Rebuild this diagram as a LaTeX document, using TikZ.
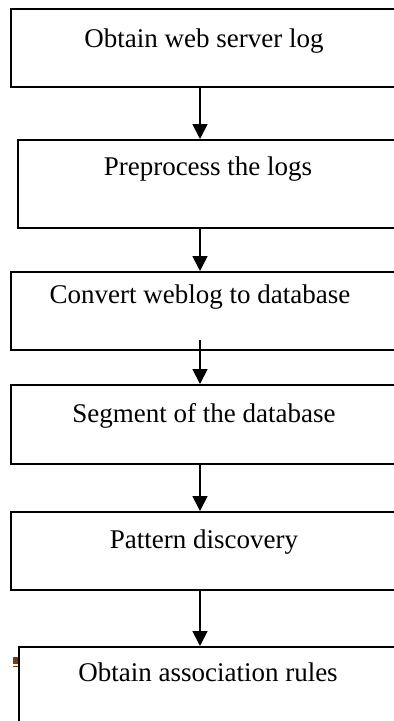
\documentclass[tikz,border=0pt]{standalone}
\usepackage{fontspec}
\setmainfont{Liberation Serif}
\usetikzlibrary{arrows.meta}
\definecolor{markbrown}{HTML}{7E3A0E}
\tikzset{
  stepbox/.style={draw=black, line width=1.6pt, rectangle, inner sep=0pt,
                  anchor=north west, minimum width=400pt},
  steptext/.style={anchor=base, inner sep=0pt, font=\fontsize{27}{32}\selectfont},
  flow/.style={line width=1.8pt, -{Triangle[length=15pt,width=15pt]}}
}
\begin{document}
\begin{tikzpicture}[x=1pt,y=-1pt]
\useasboundingbox (0,0) rectangle (394,721);
\clip (0,0) rectangle (394,721);
\fill[white] (0,0) rectangle (394,721);

% the six process boxes (they run past the right edge)
\node[stepbox, minimum height=78pt] (b1) at (10,8)   {};
\node[stepbox, minimum height=88pt] (b2) at (17,139) {};
\node[stepbox, minimum height=78pt] (b3) at (10,271) {};
\node[stepbox, minimum height=79pt] (b4) at (10,384) {};
\node[stepbox, minimum height=78pt] (b5) at (10,511) {};
\node[stepbox, minimum height=94pt] (b6) at (18,646) {};

% labels
\node[steptext] (t1) at (204,47)  {Obtain web server log};
\node[steptext] (t2) at (208,175) {Preprocess the logs};
\node[steptext] (t3) at (200,303) {Convert weblog to database};
\node[steptext] (t4) at (204,422) {Segment of the database};
\node[steptext] (t5) at (204,548) {Pattern discovery};
\node[steptext] (t6) at (208,681) {Obtain association rules};

% vertical line of the connectors
\coordinate (axis) at (200,0);
\coordinate (a3s) at (200,340);

\draw[flow] (b1.south -| axis) -- (b2.north -| axis);
\draw[flow] (b2.south -| axis) -- (b3.north -| axis);
\draw[flow] (a3s) -- (b4.north -| axis);
\draw[flow] (b4.south -| axis) -- (b5.north -| axis);
\draw[flow] (b5.south -| axis) -- (b6.north -| axis);

% small brown mark at the left edge of the last box
\fill[markbrown] (13,657) rectangle (17.5,664);
\fill[markbrown] (13,665.5) rectangle (17.5,667);
\end{tikzpicture}
\end{document}
